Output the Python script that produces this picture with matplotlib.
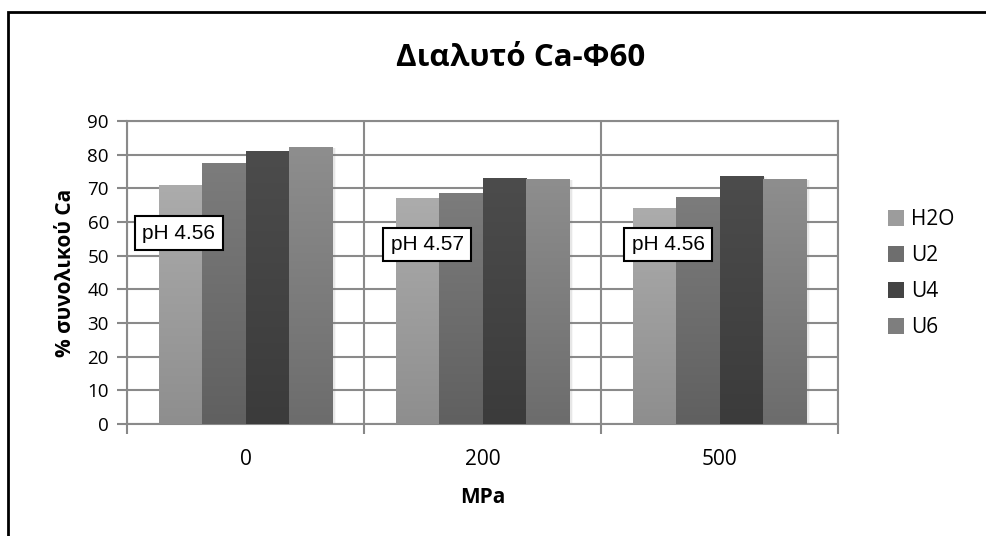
import numpy as np
import matplotlib
matplotlib.use('Agg')
import matplotlib.pyplot as plt
from matplotlib.patches import Rectangle, Patch
from matplotlib.lines import Line2D
from matplotlib.colors import LinearSegmentedColormap

# data
pressures = ['0', '200', '500']
series = ['H2O', 'U2', 'U4', 'U6']
h2o = [71.0, 67.0, 64.3]
u2 = [77.4, 68.7, 67.5]
u4 = [81.1, 73.0, 73.8]
u6 = [82.2, 72.8, 72.7]
ph_labels = ['pH 4.56', 'pH 4.57', 'pH 4.56']
ph_x = [-0.435, 0.612, 1.629]
ph_y = [56.7, 53.3, 53.3]

# gradient colours (top, bottom) per series
top_cols = ['#acacac', '#7c7c7c', '#4c4c4c', '#8e8e8e']
bot_cols = ['#8e8e8e', '#606060', '#3b3b3b', '#6c6c6c']

plt.rcParams['font.family'] = ['Open Sans', 'DejaVu Sans']

fig = plt.figure(figsize=(9.86, 5.36), dpi=100)
ax = fig.add_axes([127 / 986, 1 - 424 / 536, 711 / 986, 303 / 536])

values = [h2o, u2, u4, u6]
n = len(series)
width = 1 / (n + 1.5)
x = np.arange(len(pressures))

grad = np.linspace(1, 0, 256).reshape(-1, 1)
for i, vals in enumerate(values):
    offs = (i - (n - 1) / 2) * width
    cmap = LinearSegmentedColormap.from_list('g%d' % i, [bot_cols[i], top_cols[i]])
    bars = ax.bar(x + offs, vals, width, color=bot_cols[i], zorder=3, linewidth=0)
    for b in bars:
        bx, bw, bh = b.get_x(), b.get_width(), b.get_height()
        # soft shadow to the right
        for k, a in zip([0.006, 0.012, 0.018], [0.18, 0.12, 0.06]):
            ax.add_patch(Rectangle((bx + k, 0), bw, bh - 0.3, color='#777777',
                                   alpha=a, linewidth=0, zorder=2.5))
        im = ax.imshow(grad, extent=(bx, bx + bw, 0, bh), aspect='auto',
                       cmap=cmap, zorder=3.1, interpolation='bilinear')
        im.set_clip_path(b)

ax.set_xlim(-0.5, len(pressures) - 0.5)
ax.set_ylim(0, 90)
ax.set_yticks(np.arange(0, 91, 10))
ax.set_xticks(x)
ax.set_xticklabels(pressures, fontsize=15)
ax.set_xticks(np.arange(-0.5, len(pressures), 1), minor=True)
ax.tick_params(axis='x', which='major', length=0, pad=18)
ax.tick_params(axis='x', which='minor', length=7, width=1.5, color='#888888')
ax.tick_params(axis='y', length=7, width=1.5, color='#888888', labelsize=13.5, pad=6)
ax.yaxis.grid(True, color='#8a8a8a', linewidth=1.5, zorder=0)
ax.xaxis.grid(True, which='minor', color='#8a8a8a', linewidth=1.5, zorder=0)
ax.set_axisbelow(True)
for s in ax.spines.values():
    s.set_color('#8a8a8a')
    s.set_linewidth(1.5)

ax.set_ylabel('% συνολικού Ca', fontsize=15, fontweight='bold', labelpad=8)
ax.set_xlabel('MPa', fontsize=15, fontweight='bold', labelpad=12)

for i, lab in enumerate(ph_labels):
    ax.text(ph_x[i], ph_y[i], lab, fontsize=15, family='Liberation Sans',
            va='center', ha='left', zorder=5,
            bbox=dict(boxstyle='square,pad=0.35', fc='white', ec='black', lw=1.5))

fig.text(521 / 986, 1 - 58 / 536, 'Διαλυτό Ca-Φ60', fontsize=22.5,
         fontweight='bold', ha='center', va='center')

handles = [Patch(facecolor=c, edgecolor='none') for c in
           ['#9c9c9c', '#6e6e6e', '#444444', '#7e7e7e']]
fig.legend(handles, series, loc='upper left', bbox_to_anchor=(880 / 986, 1 - 201 / 536),
           frameon=False, fontsize=15, handlelength=0.75, handleheight=0.75,
           handletextpad=0.35, labelspacing=0.72, borderaxespad=0)

# outer chart frame: only left and top edges are inside the picture
fig.lines.append(Line2D([8 / 986, 8 / 986, 1.05], [-0.05, 1 - 12 / 536, 1 - 12 / 536],
                        transform=fig.transFigure, color='black', lw=2,
                        solid_capstyle='butt', solid_joinstyle='miter'))

fig.savefig('out.png', dpi=100)
